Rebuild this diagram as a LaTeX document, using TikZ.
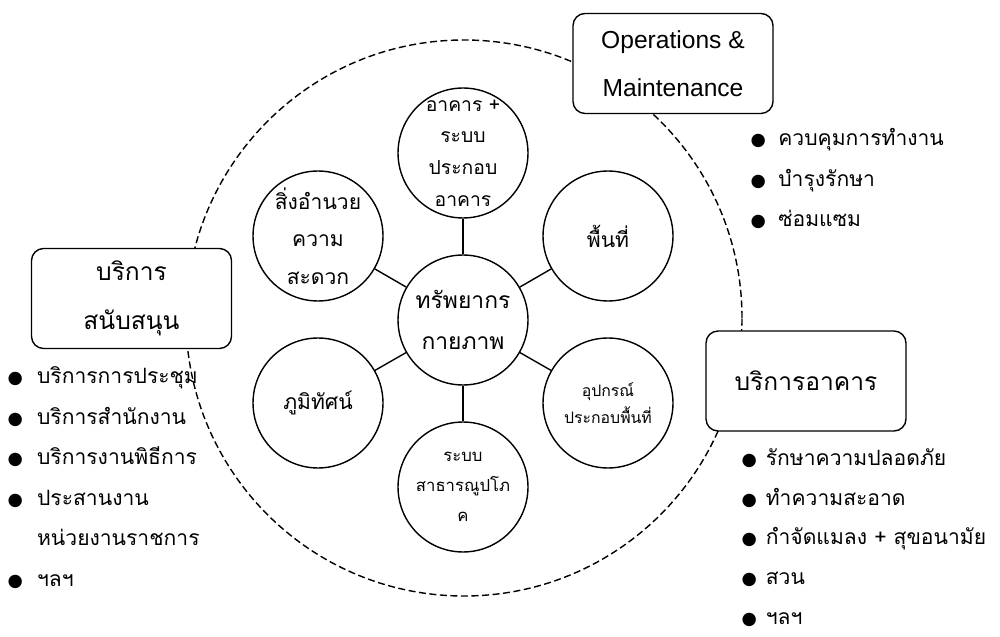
\documentclass[tikz,border=0pt]{standalone}
\usepackage{fontspec}
\setmainfont{Liberation Sans}
\newfontfamily\thaifont[Script=Thai]{Loma}
\newfontfamily\symfont{DejaVu Sans}
\usetikzlibrary{positioning,calc}
\newcommand{\dotmark}{{\symfont\fontsize{10}{10}\selectfont ●}}

\begin{document}
\begin{tikzpicture}[x=0.02cm, y=0.02cm, line width=0.8pt]
	\tikzstyle{resource} = [circle, draw=black, fill=white, minimum size=2.6cm, inner sep=0pt, align=center, font=\thaifont\fontsize{11}{18}\selectfont]
	\tikzstyle{service} = [rectangle, rounded corners=0.24cm, draw=black, fill=white, minimum width=4cm, minimum height=2cm, align=center, font=\thaifont\fontsize{14}{28}\selectfont]
	\tikzstyle{tasks} = [anchor=north west, inner sep=0pt, font=\thaifont\fontsize{12}{23}\selectfont]
	\useasboundingbox (0,0) rectangle (1000,636);
	% outer ring
	\draw [dash pattern=on 4pt off 2pt] (464,318) circle (278);
	% physical resources
	\node (core)[resource, font=\thaifont\fontsize{13}{23}\selectfont] at (463,316) {ทรัพยากร\\กายภาพ};
	\node (building)[resource] at (463,483) {อาคาร +\\ระบบ\\ประกอบ\\อาคาร};
	\node (amenity)[resource, font=\thaifont\fontsize{12}{21.5}\selectfont] at (318,400) {สิ่งอำนวย\\ความ\\สะดวก};
	\node (space)[resource, font=\thaifont\fontsize{12}{20}\selectfont] at (608,400) {พื้นที่};
	\node (landscape)[resource, font=\thaifont\fontsize{12}{20}\selectfont] at (318,233) {ภูมิทัศน์};
	\node (equipment)[resource, font=\thaifont\fontsize{9}{15}\selectfont] at (608,233) {อุปกรณ์\\ประกอบพื้นที่};
	\node (utility)[resource, font=\thaifont\fontsize{9.5}{17}\selectfont] at (463,149) {ระบบ\\สาธารณูปโภ\\ค};
	\draw (core) -- (building);
	\draw (core) -- (amenity);
	\draw (core) -- (space);
	\draw (core) -- (landscape);
	\draw (core) -- (equipment);
	\draw (core) -- (utility);
	% services
	\node (opm)[service, font=\fontsize{14}{27}\selectfont] at (673,572.5) {Operations \&\\Maintenance};
	\node (support)[service] at (131.5,337.5) {บริการ\\สนับสนุน};
	\node (facility)[service] at (806,255) {บริการอาคาร};
	% task lists
	\node (opmtasks)[tasks] at (750,519) {\begin{tabular}{@{}l@{\hspace{7pt}}l@{}}
		\dotmark & ควบคุมการทำงาน\\
		\dotmark & บำรุงรักษา\\
		\dotmark & ซ่อมแซม
	\end{tabular}};
	\node (supporttasks)[tasks] at (7,281) {\begin{tabular}{@{}l@{\hspace{8pt}}l@{}}
		\dotmark & บริการการประชุม\\
		\dotmark & บริการสำนักงาน\\
		\dotmark & บริการงานพิธีการ\\
		\dotmark & ประสานงาน\\
		& หน่วยงานราชการ\\
		\dotmark & ฯลฯ
	\end{tabular}};
	\node (facilitytasks)[tasks, font=\thaifont\fontsize{12}{22.6}\selectfont] at (741,199) {\begin{tabular}{@{}l@{\hspace{5pt}}l@{}}
		\dotmark & รักษาความปลอดภัย\\
		\dotmark & ทำความสะอาด\\
		\dotmark & กำจัดแมลง + สุขอนามัย\\
		\dotmark & สวน\\
		\dotmark & ฯลฯ
	\end{tabular}};
\end{tikzpicture}
\end{document}
